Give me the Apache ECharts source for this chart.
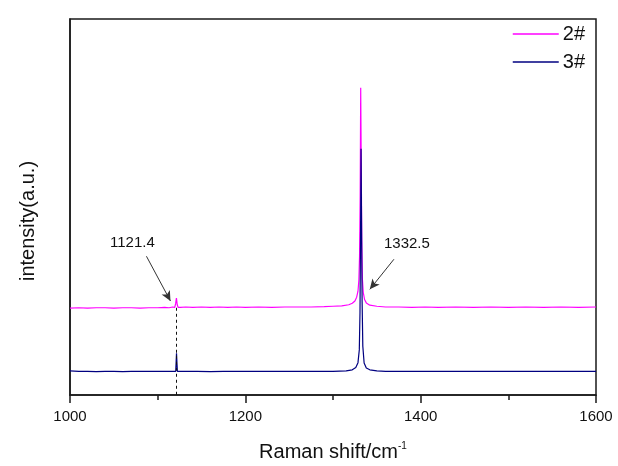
<!DOCTYPE html>
<html>
<head>
<meta charset="utf-8">
<script src="https://cdn.jsdelivr.net/npm/echarts@6/dist/echarts.min.js"></script>
<style>html,body{margin:0;padding:0;background:#fff;}#c{width:618px;height:466px;}</style>
</head>
<body>
<div id="c"></div>
<script>
// Raman shift values (cm^-1) and intensities (a.u., offset)
const shift2 = [1000,1010,1020,1030,1040,1050,1060,1070,1080,1090,1100,1108,1113,1117,1119.5,1120.5,1121.4,1122.3,1123.3,1126,1132,1140,1150,1160,1170,1180,1190,1200,1215,1230,1245,1260,1275,1290,1300,1310,1318,1322,1325,1327,1328.5,1329.5,1330.3,1331,1331.6,1332.2,1332.8,1333.5,1334.5,1336,1338,1342,1350,1360,1375,1390,1405,1420,1440,1460,1480,1500,1520,1540,1560,1580,1600];
const int2   = [23.1,23.2,23.1,23.2,23.2,23.1,23.2,23.2,23.1,23.2,23.2,23.3,23.2,23.4,23.3,24.3,25.8,24.0,23.3,23.3,23.4,23.3,23.4,23.3,23.4,23.3,23.4,23.3,23.4,23.3,23.4,23.4,23.4,23.5,23.6,23.7,24.0,24.4,25.0,26.0,27.6,30.5,37,53,81.7,62,41,31,27.3,25.4,24.5,23.9,23.6,23.4,23.4,23.3,23.4,23.3,23.4,23.3,23.4,23.3,23.4,23.3,23.4,23.3,23.4];
const shift3 = [1000,1010,1020,1030,1040,1050,1060,1070,1080,1090,1100,1110,1116,1120.6,1121.1,1121.5,1122.0,1122.5,1126,1135,1145,1160,1175,1190,1205,1220,1235,1250,1265,1280,1290,1300,1315,1322,1326,1328.5,1330,1330.8,1331.5,1332,1332.5,1333.2,1334,1335.5,1338,1342,1350,1360,1375,1390,1405,1420,1440,1460,1480,1500,1520,1540,1560,1580,1600];
const int3   = [6.4,6.3,6.3,6.2,6.3,6.3,6.2,6.3,6.3,6.3,6.3,6.3,6.3,6.3,9.0,11.1,8.6,6.3,6.3,6.3,6.3,6.2,6.3,6.3,6.3,6.3,6.3,6.3,6.3,6.3,6.3,6.3,6.4,6.7,7.3,8.6,12,22,45,65.5,48,25,13,8.5,7.2,6.7,6.4,6.3,6.3,6.3,6.3,6.3,6.3,6.3,6.3,6.3,6.3,6.3,6.3,6.3,6.3];
const seriesNames = ['2#','3#'];
const xTicks = [1000,1200,1400,1600];
const peakLabels = ['1121.4','1332.5'];

const chart = echarts.init(document.getElementById('c'), null, {renderer:'canvas'});
const font = 'Liberation Sans, Arial, sans-serif';
const toPairs = (xs, ys) => xs.map((x,i)=>[x, ys[i]]);
chart.setOption({
  backgroundColor:'#ffffff',
  animation:false,
  grid:{left:70, right:22, top:19, bottom:71, outerBoundsMode:'none', containLabel:false, show:true, borderColor:'#1a1a1a', borderWidth:1.5, backgroundColor:'transparent'},
  legend:{
    orient:'vertical', right:28, top:19, itemGap:8, itemWidth:46, itemHeight:1.5, icon:'rect',
    data:seriesNames,
    textStyle:{fontFamily:font, fontSize:20, color:'#111', padding:[0,0,0,-1]}
  },
  xAxis:{
    type:'value', min:xTicks[0], max:xTicks[xTicks.length-1], interval:200,
    name:'Raman shift/cm{sup|-1}', nameLocation:'middle', nameGap:46,
    nameTextStyle:{fontFamily:font, fontSize:20, color:'#111', rich:{sup:{fontSize:10, verticalAlign:'top', padding:[0,0,12,0], fontFamily:font, color:'#111'}}},
    axisLine:{show:true, lineStyle:{color:'#1a1a1a', width:1.5}},
    axisTick:{show:true, inside:false, length:8, lineStyle:{color:'#1a1a1a', width:1.5}},
    minorTick:{show:true, splitNumber:2, length:5, lineStyle:{color:'#1a1a1a', width:1.5}},
    axisLabel:{fontFamily:font, fontSize:15, color:'#111', margin:14, formatter:(v)=>String(v)},
    splitLine:{show:false}
  },
  yAxis:{
    type:'value', min:0, max:100,
    axisLine:{show:true, lineStyle:{color:'#1a1a1a', width:1.5}},
    axisTick:{show:false}, axisLabel:{show:false}, splitLine:{show:false}
  },
  graphic:[{
    type:'text', rotation:Math.PI/2,
    style:{text:'intensity(a.u.)', font:'20px ' + font, fill:'#111'},
    x:18, y:281
  }],
  series:[
    {
      name:seriesNames[0], type:'line', data:toPairs(shift2,int2), showSymbol:false, symbol:'none',
      lineStyle:{color:'#ff00ff', width:1.2}, itemStyle:{color:'#ff00ff'}, z:3,
      markLine:{
        silent:true, symbol:['none','none'], animation:false,
        label:{show:false},
        data:[
          [{coord:[1121.4,23.2], lineStyle:{type:[3,3], color:'#111', width:1}}, {coord:[1121.4,0]}],
          [{coord:[1087.2,36.9], symbol:'none', lineStyle:{type:'solid', color:'#333', width:1}}, {coord:[1114.6,25.0], symbol:'arrow', symbolSize:[7,10]}],
          [{coord:[1369.5,36.1], symbol:'none', lineStyle:{type:'solid', color:'#333', width:1}}, {coord:[1342,28.1], symbol:'arrow', symbolSize:[7,10]}]
        ]
      },
      markPoint:{
        silent:true, symbol:'circle', symbolSize:0, animation:false,
        label:{show:true, position:'inside', fontFamily:font, fontSize:15, color:'#111'},
        data:[
          {coord:[1071.2,40.4], value:peakLabels[0], label:{formatter:peakLabels[0]}},
          {coord:[1384.3,40.1], value:peakLabels[1], label:{formatter:peakLabels[1]}}
        ]
      }
    },
    {
      name:seriesNames[1], type:'line', data:toPairs(shift3,int3), showSymbol:false, symbol:'none',
      lineStyle:{color:'#000080', width:1.2}, itemStyle:{color:'#000080'}, z:4
    }
  ]
});
</script>
</body>
</html>
